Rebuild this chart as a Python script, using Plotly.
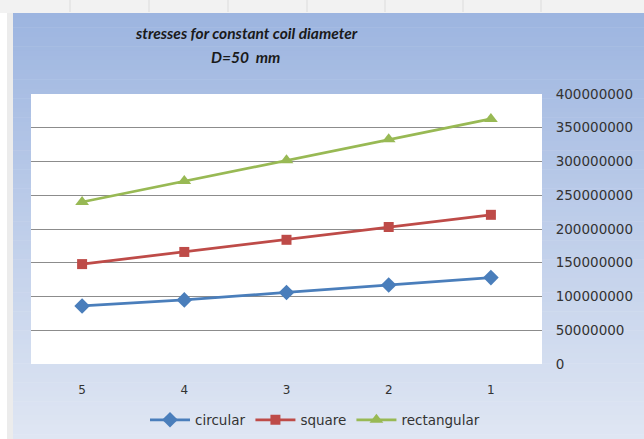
import plotly.graph_objects as go

# Coil index (plotted in reverse order) and stress values in Pa
categories = ["5", "4", "3", "2", "1"]
circular = [86e6, 95e6, 106e6, 117e6, 128e6]
square = [148e6, 166e6, 184e6, 203e6, 221e6]
rectangular = [240e6, 271e6, 302e6, 333e6, 363e6]
y_ticks = [0, 50000000, 100000000, 150000000, 200000000,
           250000000, 300000000, 350000000, 400000000]

W, H = 644, 439
L, R, T, B = 31, 102, 94, 75
PW, PH = W - L - R, H - T - B


def px_x(px):
    return (px - L) / PW


def px_y(py):
    return (H - B - py) / PH


def lerp_color(c1, c2, t):
    a = [int(c1[i:i + 2], 16) for i in (1, 3, 5)]
    b = [int(c2[i:i + 2], 16) for i in (1, 3, 5)]
    return "rgb(%d,%d,%d)" % tuple(round(a[k] + (b[k] - a[k]) * t) for k in range(3))


shapes = []
# spreadsheet strip and frame shadow behind the chart
shapes.append(dict(type="rect", xref="paper", yref="paper", layer="below",
                   x0=px_x(0), x1=px_x(W), y0=px_y(0), y1=px_y(13),
                   fillcolor="#f2f2f2", line_width=0))
for cx in [70, 149, 228, 307, 385, 463, 541]:
    shapes.append(dict(type="line", xref="paper", yref="paper", layer="below",
                       x0=px_x(cx), x1=px_x(cx), y0=px_y(0), y1=px_y(12),
                       line=dict(color="#dcdcdc", width=1)))
shapes.append(dict(type="rect", xref="paper", yref="paper", layer="below",
                   x0=px_x(7), x1=px_x(13), y0=px_y(13), y1=px_y(H),
                   fillcolor="#ececec", line_width=0))

# chart area vertical gradient
top, bottom = 13, H
n = 90
for i in range(n):
    y0 = top + (bottom - top) * i / n
    y1 = top + (bottom - top) * (i + 1) / n + 0.6
    shapes.append(dict(type="rect", xref="paper", yref="paper", layer="below",
                       x0=px_x(13), x1=px_x(W + 2), y0=px_y(y0), y1=px_y(y1),
                       fillcolor=lerp_color("#9db5e0", "#dfe6f3", i / (n - 1)),
                       line_width=0))
# white plotting area
shapes.append(dict(type="rect", xref="paper", yref="paper", layer="below",
                   x0=0, x1=1, y0=0, y1=1, fillcolor="white", line_width=0))

fig = go.Figure()
series = [
    ("circular", circular, "#4a7ebb", "diamond", 12),
    ("square", square, "#be4b48", "square", 10),
    ("rectangular", rectangular, "#98b954", "triangle-up", 12),
]
for name, vals, color, sym, size in series:
    fig.add_trace(go.Scatter(
        x=categories, y=vals, name=name, mode="lines+markers",
        line=dict(color=color, width=2.75),
        marker=dict(symbol=sym, size=size, color=color),
    ))

fig.update_layout(
    width=W, height=H,
    margin=dict(l=L, r=R, t=T, b=B),
    paper_bgcolor="white",
    plot_bgcolor="rgba(0,0,0,0)",
    shapes=shapes,
    showlegend=True,
    legend=dict(orientation="h", xref="container", yref="container",
                x=315 / W, xanchor="center",
                y=1 - 420 / H, yanchor="middle",
                bgcolor="rgba(0,0,0,0)",
                font=dict(family="DejaVu Sans", size=13.5, color="#333333"),
                itemwidth=40, tracegroupgap=0),
    annotations=[
        dict(text="stresses for constant coil diameter", xref="paper", yref="paper",
             x=px_x(246), y=px_y(33), xanchor="center", yanchor="middle",
             showarrow=False,
             font=dict(family="Lato", size=15.5, color="#1a1a1a",
                       weight="bold", style="italic")),
        dict(text="D=50\u00a0 mm", xref="paper", yref="paper",
             x=px_x(245), y=px_y(57), xanchor="center", yanchor="middle",
             showarrow=False,
             font=dict(family="Lato", size=15.5, color="#1a1a1a",
                       weight="bold", style="italic")),
    ],
)

fig.update_xaxes(
    type="category", categoryorder="array", categoryarray=categories,
    range=[-0.5, 4.5], showgrid=False, zeroline=False, showline=False,
    automargin=False,
    ticks="outside", ticklen=15, tickcolor="rgba(0,0,0,0)",
    tickfont=dict(family="DejaVu Sans", size=12, color="#333333"),
)
fig.update_yaxes(
    side="right", range=[0, 4e8], tickvals=y_ticks,
    ticktext=[str(v) for v in y_ticks],
    showgrid=True, gridcolor="#8c8c8c", gridwidth=1,
    zeroline=False, showline=False, automargin=False,
    ticks="outside", ticklen=10, tickcolor="rgba(0,0,0,0)",
    tickfont=dict(family="DejaVu Sans", size=13.5, color="#333333"),
)

fig.write_html("out.html")
